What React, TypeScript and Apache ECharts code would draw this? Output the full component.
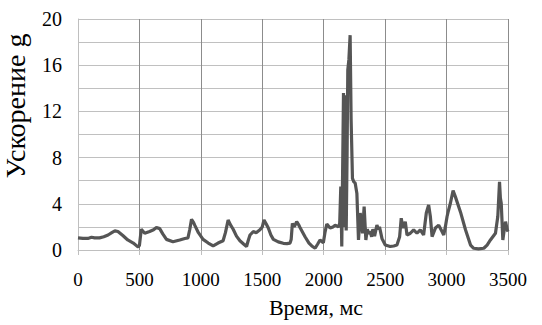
import React, { useEffect, useRef } from "react";
import * as echarts from "echarts";

const timeMs = [
  0, 40, 80, 110, 135, 175, 210, 245, 275, 300, 325, 365, 405, 450, 490, 500, 515, 543, 583, 615,
  638, 665, 690, 720, 773, 828, 870, 895, 910, 924, 940, 950, 980, 1018, 1060, 1100, 1140, 1181, 1200, 1222,
  1240, 1263, 1290, 1318, 1350, 1372, 1385, 1400, 1427, 1450, 1481, 1500, 1514, 1530, 1549, 1570, 1590, 1630, 1671, 1700,
  1726, 1735, 1745, 1760, 1780, 1795, 1807, 1848, 1880, 1903, 1930, 1950, 1970, 1997, 2010, 2025, 2052, 2075, 2093, 2120,
  2130, 2139, 2147, 2152, 2161, 2167, 2174, 2183, 2190, 2196, 2205, 2215, 2223, 2234, 2245, 2256, 2270, 2283, 2297, 2310,
  2316, 2329, 2343, 2355, 2365, 2378, 2390, 2400, 2414, 2433, 2445, 2454, 2474, 2501, 2541, 2570, 2596, 2618, 2631, 2645,
  2664, 2678, 2705, 2732, 2759, 2786, 2813, 2835, 2854, 2868, 2882, 2909, 2936, 2963, 2977, 2990, 3004, 3015, 3031, 3053,
  3072, 3113, 3154, 3195, 3221, 3260, 3303, 3330, 3357, 3398, 3417, 3431, 3438, 3445, 3458, 3470, 3480, 3494, 3500,
];

const accelG = [
  1.05, 1.0, 1.0, 1.1, 1.05, 1.05, 1.15, 1.3, 1.5, 1.65, 1.6, 1.25, 0.87, 0.6, 0.25, 0.4, 1.8, 1.45, 1.6, 1.75,
  1.95, 1.85, 1.4, 0.92, 0.72, 0.87, 1.0, 1.05, 1.8, 2.65, 2.4, 2.15, 1.5, 0.92, 0.6, 0.35, 0.6, 0.8, 1.5, 2.6,
  2.2, 1.8, 1.2, 0.8, 0.5, 0.3, 0.8, 1.3, 1.6, 1.5, 1.75, 2.0, 2.6, 2.3, 1.9, 1.3, 0.92, 0.7, 0.58, 0.55,
  0.6, 0.9, 2.3, 2.0, 2.45, 2.2, 1.95, 1.15, 0.6, 0.35, 0.15, 0.5, 0.87, 0.63, 1.5, 2.25, 1.9, 2.0, 2.15, 2.0,
  2.3, 5.5, 0.3, 5.0, 13.6, 2.0, 13.4, 1.7, 8.0, 15.6, 16.5, 18.6, 11.3, 6.2, 5.9, 5.8, 4.9, 0.87, 3.2, 2.0,
  1.45, 3.75, 0.87, 1.8, 1.4, 1.6, 1.15, 1.8, 1.2, 2.15, 1.8, 2.0, 1.0, 0.43, 0.3, 0.35, 0.43, 1.15, 2.75, 1.9,
  2.45, 1.3, 1.45, 1.75, 1.45, 1.75, 1.3, 3.2, 3.9, 2.9, 1.15, 1.9, 2.15, 1.6, 1.3, 2.0, 2.9, 3.4, 4.05, 5.15,
  4.6, 3.3, 1.75, 0.43, 0.15, 0.1, 0.15, 0.43, 0.87, 1.45, 2.9, 5.9, 4.5, 4.05, 0.87, 1.8, 2.45, 1.75, 1.6,
];

const xTitle = "Время, мс";
const yTitle = "Ускорение g";

const FONT = "Times New Roman";

export default function App() {
  const ref = useRef<HTMLDivElement>(null);

  useEffect(() => {
    if (!ref.current) return;
    const chart = echarts.init(ref.current, undefined, { renderer: "svg" });
    const data = timeMs.map((t, i) => [t, accelG[i]]);
    chart.setOption({
      animation: false,
      backgroundColor: "#ffffff",
      textStyle: { fontFamily: FONT },
      grid: { left: 78, top: 19, right: 34, bottom: 75, containLabel: false },
      xAxis: {
        type: "value",
        min: 0,
        max: 3500,
        interval: 500,
        axisLine: { show: true, lineStyle: { color: "#bfbfbf", width: 1 } },
        axisTick: { show: true, length: 5, lineStyle: { color: "#bfbfbf" } },
        axisLabel: {
          color: "#000",
          fontFamily: FONT,
          fontSize: 19,
          margin: 20,
          formatter: (v: number) => String(v),
        },
        splitLine: { show: true, lineStyle: { color: "#8c8c8c", width: 1 } },
      },
      yAxis: {
        type: "value",
        min: 0,
        max: 20,
        interval: 2,
        axisLine: { show: true, lineStyle: { color: "#bfbfbf", width: 1 } },
        axisTick: { show: false },
        axisLabel: {
          color: "#000",
          fontFamily: FONT,
          fontSize: 20,
          margin: 16,
          formatter: (v: number) => (v % 4 === 0 ? String(v) : ""),
        },
        splitLine: { show: true, lineStyle: { color: "#c0c0c0", width: 1 } },
      },
      series: [
        {
          type: "line",
          data,
          showSymbol: false,
          symbol: "none",
          lineStyle: { color: "#555555", width: 3.2 },
          z: 5,
        },
      ],
      graphic: [
        {
          type: "text",
          x: 316,
          y: 307,
          style: {
            text: xTitle,
            fill: "#000",
            fontFamily: FONT,
            fontSize: 22,
            textAlign: "center",
            textVerticalAlign: "middle",
          },
        },
        {
          type: "text",
          x: 15,
          y: 106,
          rotation: Math.PI / 2,
          style: {
            text: yTitle,
            fill: "#000",
            fontFamily: FONT,
            fontSize: 28,
            textAlign: "center",
            textVerticalAlign: "middle",
          },
        },
      ],
    });
    return () => chart.dispose();
  }, []);

  return (
    <div
      ref={ref}
      style={{ position: "absolute", left: 0, top: 0, width: 542, height: 325 }}
    />
  );
}
